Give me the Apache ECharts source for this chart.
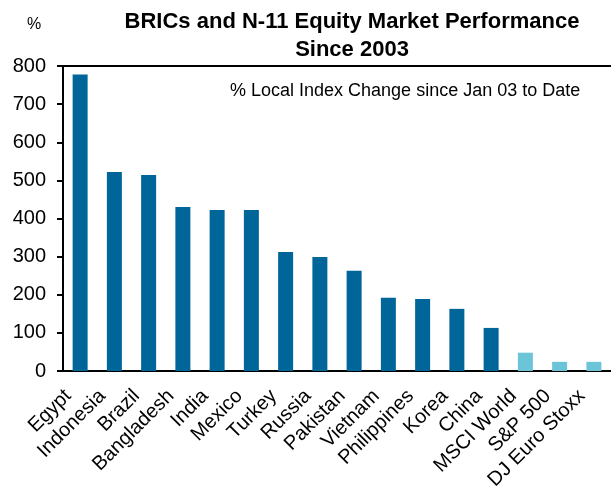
<!DOCTYPE html>
<html>
<head>
<meta charset="utf-8">
<script src="https://cdn.jsdelivr.net/npm/echarts@6/dist/echarts.min.js"></script>
<style>
  html, body { margin: 0; padding: 0; background: #fff; }
  #chart { width: 611px; height: 487px; }
</style>
</head>
<body>
<div id="chart"></div>
<script>
const markets = ['Egypt', 'Indonesia', 'Brazil', 'Bangladesh', 'India', 'Mexico', 'Turkey', 'Russia',
    'Pakistan', 'Vietnam', 'Philippines', 'Korea', 'China', 'MSCI World', 'S&P 500', 'DJ Euro Stoxx'];
const change = [778, 522, 514, 430, 422, 422, 312, 299, 263, 192, 189, 163, 113, 48, 24, 24];
const benchmarks = ['MSCI World', 'S&P 500', 'DJ Euro Stoxx'];
const yTicks = [0, 100, 200, 300, 400, 500, 600, 700, 800];

const chart = echarts.init(document.getElementById('chart'));
const font = '"Liberation Sans", Arial, sans-serif';

const option = {
    animation: false,
    textStyle: { fontFamily: font },
    title: {
        text: 'BRICs and N-11 Equity Market Performance\nSince 2003',
        left: 347,
        textAlign: 'center',
        top: 3,
        textStyle: { fontSize: 22, fontWeight: 'bold', color: '#000', lineHeight: 28, fontFamily: font }
    },
    graphic: [
        { type: 'text', left: 27, top: 17, style: { text: '%', fill: '#000', font: '16px ' + font } },
        { type: 'text', left: 230, top: 82, style: { text: '% Local Index Change since Jan 03 to Date', fill: '#000', font: '18px ' + font } }
    ],
    grid: { left: 63, right: 0, top: 66, bottom: 116, outerBoundsMode: 'none', containLabel: false },
    xAxis: [{
        type: 'category',
        data: markets,
        axisLine: { lineStyle: { color: '#000', width: 2 } },
        axisTick: { length: 6, lineStyle: { color: '#000', width: 2 } },
        axisLabel: { rotate: 45, fontSize: 20, color: '#000', margin: 10, padding: [0, 17, 0, 0], interval: 0, fontFamily: font }
    }, {
        type: 'category',
        position: 'top',
        data: markets,
        axisLine: { lineStyle: { color: '#000', width: 2 } },
        axisTick: { show: false },
        axisLabel: { show: false }
    }],
    yAxis: {
        type: 'value',
        min: yTicks[0],
        max: yTicks[yTicks.length - 1],
        interval: 100,
        splitLine: { show: false },
        axisLine: { show: true, lineStyle: { color: '#000', width: 2 } },
        axisTick: { show: true, length: 6, lineStyle: { color: '#000', width: 2 } },
        axisLabel: { fontSize: 20, color: '#000', margin: 17, fontFamily: font }
    },
    series: [{
        type: 'bar',
        barWidth: 15,
        data: change.map((v, i) => ({
            value: v,
            itemStyle: { color: benchmarks.includes(markets[i]) ? '#6CC4D8' : '#006699' }
        }))
    }]
};
chart.setOption(option);
</script>
</body>
</html>
